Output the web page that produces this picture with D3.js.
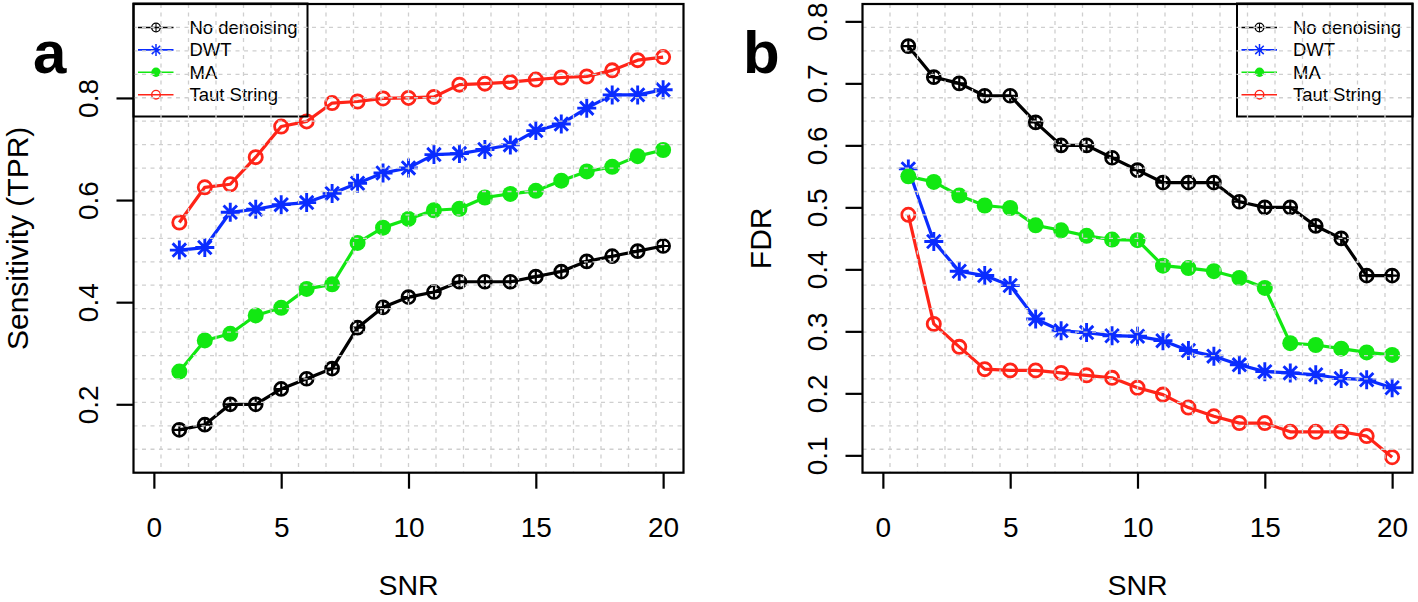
<!DOCTYPE html>
<html><head><meta charset="utf-8">
<script src="https://cdn.jsdelivr.net/npm/d3@7"></script>
<style>body{margin:0;background:#fff} svg{display:block}</style>
</head><body>
<svg id="c" width="1418" height="602"></svg>
<script>
// ---------------- data ----------------
const snr = [1,2,3,4,5,6,7,8,9,10,11,12,13,14,15,16,17,18,19,20];
const seriesNames = ["No denoising","DWT","MA","Taut String"];
const seriesColors = ["#000000","#0a2cff","#12e812","#ff2418"];
const seriesMarkers = ["oplus","star","dot","circle"];

const tprNoDenoising = [0.15,0.16,0.20,0.20,0.23,0.25,0.27,0.35,0.39,0.41,0.42,0.44,0.44,0.44,0.45,0.46,0.48,0.49,0.50,0.51];
const tprDWT         = [0.502,0.507,0.576,0.582,0.591,0.595,0.613,0.633,0.653,0.663,0.689,0.691,0.699,0.708,0.736,0.749,0.780,0.806,0.806,0.816];
const tprMA          = [0.264,0.325,0.338,0.374,0.389,0.426,0.435,0.516,0.546,0.563,0.580,0.583,0.605,0.612,0.618,0.638,0.656,0.665,0.686,0.698];
const tprTaut        = [0.556,0.625,0.631,0.684,0.744,0.754,0.790,0.793,0.799,0.800,0.802,0.826,0.828,0.831,0.836,0.840,0.842,0.854,0.874,0.880];

const fdrNoDenoising = [0.76,0.71,0.70,0.68,0.68,0.637,0.60,0.60,0.58,0.56,0.54,0.54,0.54,0.509,0.50,0.50,0.47,0.45,0.39,0.39];
const fdrDWT         = [0.562,0.445,0.397,0.390,0.374,0.320,0.301,0.298,0.293,0.292,0.285,0.269,0.260,0.246,0.235,0.233,0.230,0.224,0.222,0.209];
const fdrMA          = [0.550,0.541,0.519,0.503,0.499,0.471,0.463,0.454,0.448,0.447,0.406,0.402,0.397,0.386,0.370,0.281,0.278,0.272,0.266,0.262];
const fdrTaut        = [0.488,0.312,0.275,0.239,0.237,0.237,0.233,0.229,0.225,0.209,0.198,0.177,0.163,0.152,0.152,0.138,0.138,0.138,0.131,0.097];

const xTicks = [0,5,10,15,20];
const tprTicks = [0.2,0.4,0.6,0.8];
const fdrTicks = [0.1,0.2,0.3,0.4,0.5,0.6,0.7,0.8];

// ---------------- drawing ----------------
const svg = d3.select("#c");
const FONT = "'Liberation Sans', Arial, Helvetica, sans-serif";

function extend(lo, hi){ const s = hi - lo; return [lo - 0.04*s, hi + 0.04*s]; }

function marker(g, type, cx, cy, color, size, sw){
  if(type === "oplus"){
    g.append("circle").attr("cx",cx).attr("cy",cy).attr("r",size).attr("fill","none").attr("stroke",color).attr("stroke-width",sw);
    g.append("path").attr("d",`M${cx-size},${cy}H${cx+size}M${cx},${cy-size}V${cy+size}`).attr("stroke",color).attr("stroke-width",sw*0.8).attr("fill","none");
  } else if(type === "star"){
    const d = size, e = size*Math.SQRT1_2;
    g.append("path").attr("d",`M${cx-d},${cy}H${cx+d}M${cx},${cy-d}V${cy+d}M${cx-e},${cy-e}L${cx+e},${cy+e}M${cx-e},${cy+e}L${cx+e},${cy-e}`)
      .attr("stroke",color).attr("stroke-width",sw).attr("fill","none");
  } else if(type === "dot"){
    g.append("circle").attr("cx",cx).attr("cy",cy).attr("r",size).attr("fill",color);
  } else {
    g.append("circle").attr("cx",cx).attr("cy",cy).attr("r",size).attr("fill","none").attr("stroke",color).attr("stroke-width",sw);
  }
}

const markerSize = {oplus:[6.5,2.7], star:[9.5,2.9], dot:[8,0], circle:[6.6,2.8]};
const legendMarkerSize = {oplus:[4.3,1.3], star:[6,1.5], dot:[4.7,0], circle:[4.3,1.4]};

function panel(opt){
  const {left,right,top,bottom,yDom,yTicks,series,ylab,ylabX,tag,tagX,legendX,legendW} = opt;
  const x = d3.scaleLinear().domain(extend(0,20)).range([left,right]);
  const y = d3.scaleLinear().domain(extend(yDom[0],yDom[1])).range([bottom,top]);
  const g = svg.append("g");

  // series
  series.forEach((vals,i)=>{
    const pts = snr.map((s,j)=>[x(s),y(vals[j])]);
    g.append("path").attr("d",d3.line()(pts)).attr("fill","none")
      .attr("stroke",seriesColors[i]).attr("stroke-width",3.2).attr("stroke-linejoin","round");
    const [sz,sw] = markerSize[seriesMarkers[i]];
    pts.forEach(p=>marker(g,seriesMarkers[i],p[0],p[1],seriesColors[i],sz,sw));
  });

  // legend
  const lg = svg.append("g");
  const lh = 113;
  lg.append("rect").attr("x",legendX).attr("y",top-0.5).attr("width",legendW).attr("height",lh)
    .attr("fill","none").attr("stroke","#000").attr("stroke-width",2);
  seriesNames.forEach((nm,i)=>{
    const ry = top + 23.5 + i*22.4;
    lg.append("line").attr("x1",legendX+4.5).attr("x2",legendX+40).attr("y1",ry).attr("y2",ry)
      .attr("stroke",seriesColors[i]).attr("stroke-width",1.6);
    const [sz,sw] = legendMarkerSize[seriesMarkers[i]];
    marker(lg,seriesMarkers[i],legendX+22.5,ry,seriesColors[i],sz,sw);
    lg.append("text").attr("x",legendX+56).attr("y",ry+6.5).text(nm)
      .attr("font-family",FONT).attr("font-size",18.5).attr("fill","#000");
  });

  // grid (drawn on top, like R grid())
  const gg = svg.append("g").attr("stroke","#cfcfcf").attr("stroke-width",1.3).attr("stroke-dasharray","4,4.5");
  const xd = x.domain(), yd = y.domain();
  for(let k=1;k<20;k++){
    const gx = x(xd[0] + (xd[1]-xd[0])*k/20);
    gg.append("line").attr("x1",gx).attr("x2",gx).attr("y1",top).attr("y2",bottom);
    const gy = y(yd[0] + (yd[1]-yd[0])*k/20);
    gg.append("line").attr("x1",left).attr("x2",right).attr("y1",gy).attr("y2",gy);
  }

  // box
  svg.append("rect").attr("x",left).attr("y",top).attr("width",right-left).attr("height",bottom-top)
    .attr("fill","none").attr("stroke","#000").attr("stroke-width",2.2);

  // x axis
  const xa = svg.append("g").attr("transform",`translate(0,${bottom})`)
    .call(d3.axisBottom(x).tickValues(xTicks).tickSize(16).tickPadding(28.5).tickFormat(d3.format("d")));
  xa.select(".domain").remove();
  xa.selectAll("line").attr("stroke-width",2.2);
  xa.selectAll("text").attr("font-family",FONT).attr("font-size",28).attr("fill","#000");

  // y axis
  const ya = svg.append("g").attr("transform",`translate(${left},0)`)
    .call(d3.axisLeft(y).tickValues(yTicks).tickSize(17).tickFormat(d3.format(".1f")));
  ya.select(".domain").remove();
  ya.selectAll("line").attr("stroke-width",2.2);
  ya.selectAll("text").remove();
  ya.selectAll(".tick").append("text")
    .attr("transform",`translate(-36,0) rotate(-90)`)
    .attr("text-anchor","middle").attr("x",0).attr("y",0)
    .attr("font-family",FONT).attr("font-size",28).attr("fill","#000")
    .text(d=>d3.format(".1f")(d));

  // axis titles
  svg.append("text").attr("x",(left+right)/2).attr("y",595).attr("text-anchor","middle")
    .attr("font-family",FONT).attr("font-size",28.5).text("SNR");
  svg.append("text").attr("transform",`translate(${ylabX},${(top+bottom)/2}) rotate(-90)`)
    .attr("text-anchor","middle").attr("font-family",FONT).attr("font-size",30).text(ylab);

  // panel tag
  svg.append("text").attr("x",tagX).attr("y",73).attr("font-family",FONT).attr("font-weight","bold")
    .attr("font-size",60).text(tag);
}

panel({left:133.5,right:683.5,top:4,bottom:472.7,yDom:[0.1,0.95],yTicks:tprTicks,
  series:[tprNoDenoising,tprDWT,tprMA,tprTaut],ylab:"Sensitivity (TPR)",ylabX:28,
  tag:"a",tagX:33,legendX:133.5,legendW:174});
panel({left:862.5,right:1412.5,top:4,bottom:472.7,yDom:[0.1,0.8],yTicks:fdrTicks,
  series:[fdrNoDenoising,fdrDWT,fdrMA,fdrTaut],ylab:"FDR",ylabX:771,
  tag:"b",tagX:743,legendX:1237,legendW:175.5});
</script>
</body></html>
